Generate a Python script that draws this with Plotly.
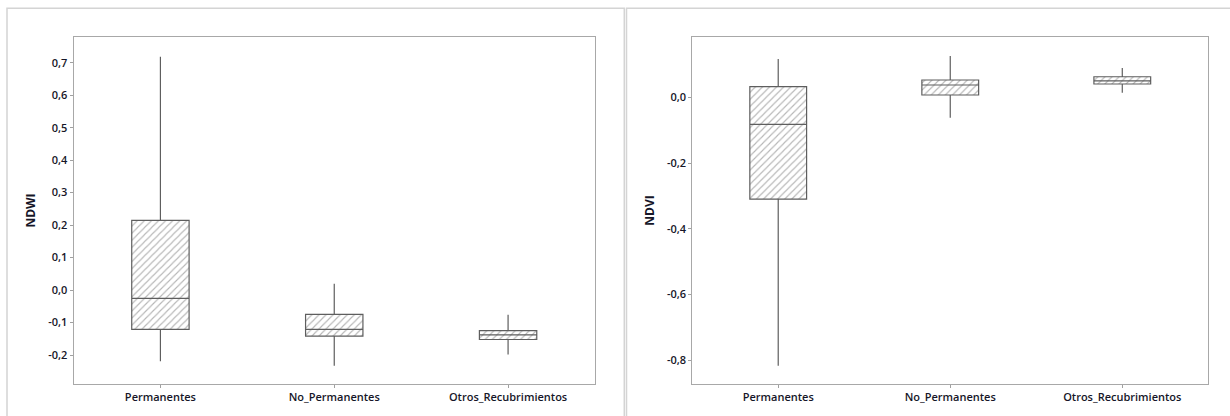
import plotly.graph_objects as go

categories = ["Permanentes", "No_Permanentes", "Otros_Recubrimientos"]

# NDWI (left panel)
ndwi_lower = [-0.219, -0.233, -0.198]
ndwi_q1 = [-0.121, -0.1416, -0.152]
ndwi_median = [-0.0256, -0.121, -0.1375]
ndwi_q3 = [0.2146, -0.075, -0.125]
ndwi_upper = [0.718, 0.0195, -0.076]

# NDVI (right panel)
ndvi_lower = [-0.8175, -0.062, 0.014]
ndvi_q1 = [-0.3098, 0.007, 0.0405]
ndvi_median = [-0.0822, 0.0375, 0.050]
ndvi_q3 = [0.0323, 0.0527, 0.0627]
ndvi_upper = [0.1167, 0.1258, 0.0892]

ndwi_ticks = [-0.2, -0.1, 0.0, 0.1, 0.2, 0.3, 0.4, 0.5, 0.6, 0.7]
ndwi_ticktext = ["-0,2", "-0,1", "0,0", "0,1", "0,2", "0,3", "0,4", "0,5", "0,6", "0,7"]
ndvi_ticks = [-0.8, -0.6, -0.4, -0.2, 0.0]
ndvi_ticktext = ["-0,8", "-0,6", "-0,4", "-0,2", "0,0"]

W, H = 1230, 416
BOXW = 0.33
LINE_C = "#5e5e5e"
TXT_C = "#161628"
FONT = "Open Sans"

fig = go.Figure()


def add_panel(xa, ya, lower, q1, med, q3, upper):
    fig.add_trace(go.Bar(
        x=categories, y=[b - a for a, b in zip(q1, q3)], base=q1,
        width=BOXW, xaxis=xa, yaxis=ya, showlegend=False, hoverinfo="skip",
        marker=dict(color="white", line=dict(width=0),
                    pattern=dict(shape="/", fgcolor="#6e6e6e", bgcolor="white",
                                 size=5, solidity=0.22)),
    ))
    fig.add_trace(go.Box(
        x=categories, q1=q1, median=med, q3=q3,
        lowerfence=lower, upperfence=upper,
        width=BOXW, whiskerwidth=0, boxpoints=False,
        fillcolor="rgba(0,0,0,0)", line=dict(color=LINE_C, width=1.2),
        xaxis=xa, yaxis=ya, showlegend=False, hoverinfo="skip",
    ))


add_panel("x", "y", ndwi_lower, ndwi_q1, ndwi_median, ndwi_q3, ndwi_upper)
add_panel("x2", "y2", ndvi_lower, ndvi_q1, ndvi_median, ndvi_q3, ndvi_upper)

ydom = [1 - 384 / H, 1 - 37 / H]
axis_common = dict(showline=True, mirror=True, linecolor="#a8a8a8", linewidth=1,
                   showgrid=False, zeroline=False, ticks="outside", ticklen=3,
                   tickcolor="#a0a0a0",
                   tickfont=dict(family=FONT, size=11, color=TXT_C, weight=600))

title_font = dict(family=FONT, size=12, color=TXT_C)

fig.update_layout(
    width=W, height=H, margin=dict(l=0, r=0, t=0, b=0),
    paper_bgcolor="white", plot_bgcolor="white",
    showlegend=False,
    xaxis=dict(domain=[73.5 / W, 595 / W], range=[-0.5, 2.5], anchor="y",
               type="category", **axis_common),
    yaxis=dict(domain=ydom, range=[-0.289, 0.779], anchor="x",
               tickvals=ndwi_ticks, ticktext=ndwi_ticktext,
               title=dict(text="<b>NDWI</b>", standoff=9, font=title_font),
               **axis_common),
    xaxis2=dict(domain=[692.2 / W, 1208.3 / W], range=[-0.5, 2.5], anchor="y2",
                type="category", **axis_common),
    yaxis2=dict(domain=ydom, range=[-0.873, 0.1837], anchor="x2",
                tickvals=ndvi_ticks, ticktext=ndvi_ticktext,
                title=dict(text="<b>NDVI</b>", standoff=9, font=title_font),
                **axis_common),
    shapes=[
        dict(type="rect", xref="paper", yref="paper",
             x0=7 / W, x1=624.3 / W, y0=-0.1, y1=1 - 8.3 / H,
             line=dict(color="#d4d4d4", width=1.5), layer="below"),
        dict(type="rect", xref="paper", yref="paper",
             x0=626.5 / W, x1=1.1, y0=-0.1, y1=1 - 8.3 / H,
             line=dict(color="#d4d4d4", width=1.5), layer="below"),
    ],
)

fig.write_html("out.html", config={"displayModeBar": False},
               post_script="document.body.style.margin='0';document.body.style.overflow='hidden';")
